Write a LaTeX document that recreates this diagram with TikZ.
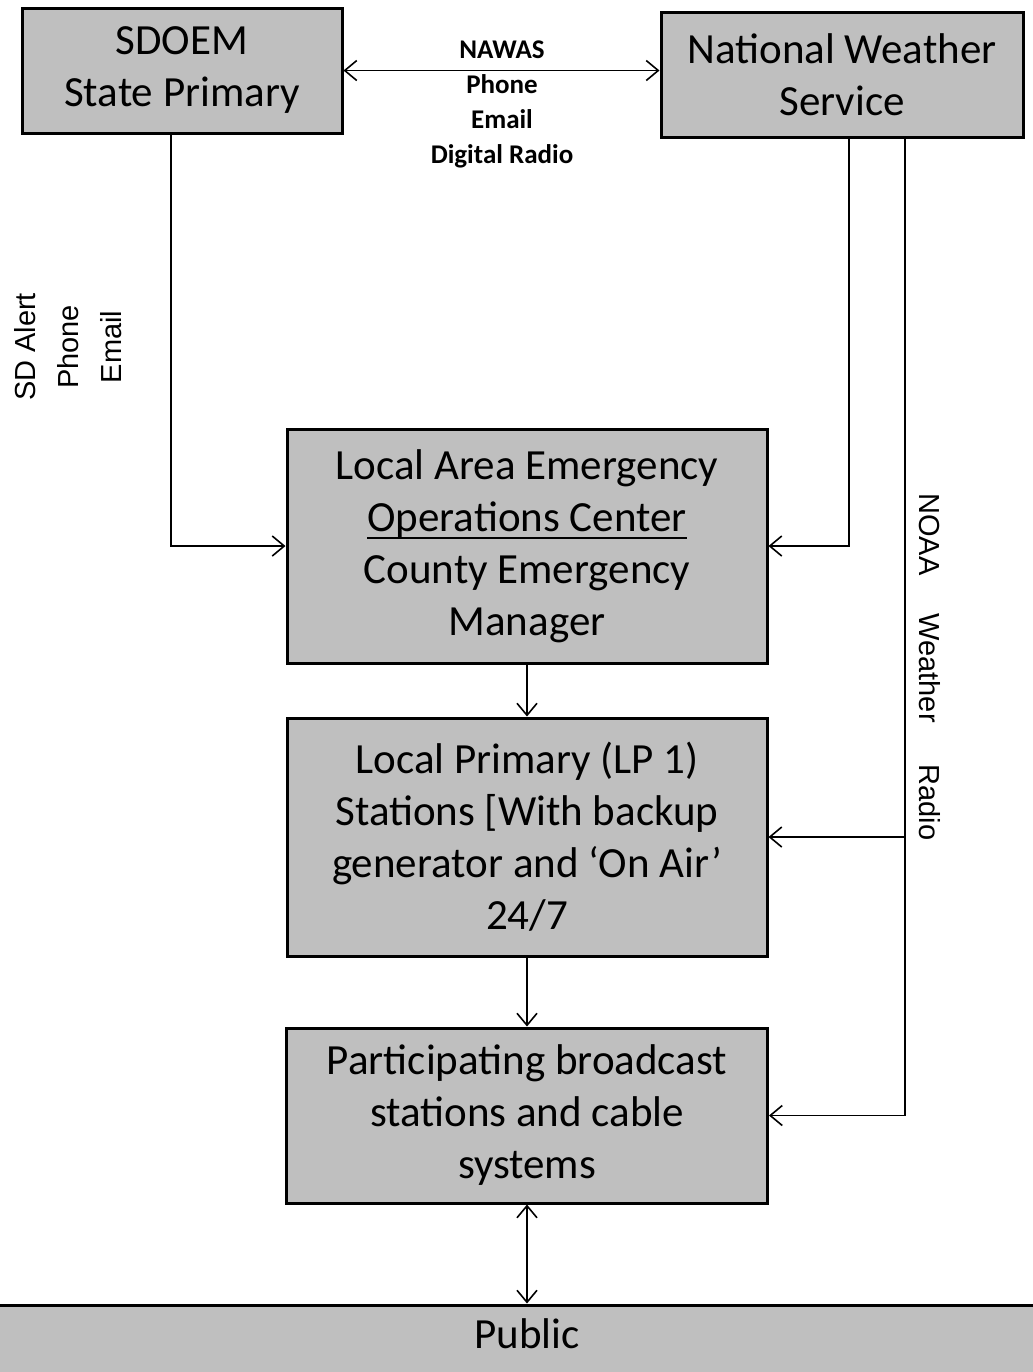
\documentclass[tikz,border=0pt]{standalone}
\usepackage{fontspec}
\setmainfont{Carlito}
\newfontfamily\arialfont{Liberation Sans}
\usetikzlibrary{arrows.meta}
\newcommand\thickul[1]{\setbox0\hbox{#1}\rlap{\rule[-4pt]{\wd0}{1.3pt}}\box0}
\begin{document}
\begin{tikzpicture}[x=0.5pt,y=-0.5pt,
  box/.style={draw=black, line width=1.5pt, fill=black!25, inner sep=0pt, align=center,
    font=\fontsize{21.5}{26}\selectfont},
  conn/.style={line width=0.9pt, -{Straight Barb[length=6pt,width=10pt,line width=0.8pt]}},
  dconn/.style={line width=0.9pt, {Straight Barb[length=6pt,width=10pt,line width=0.8pt]}-{Straight Barb[length=6pt,width=10pt,line width=0.8pt]}},
  vlabel/.style={font=\arialfont\fontsize{14.5}{21.5}\selectfont, align=center, inner sep=0pt}
]
\useasboundingbox (0,0) rectangle (1033,1372);

\node[box, minimum width=160pt, minimum height=62.5pt] (sdoem) at (182,70.5) {SDOEM\\State Primary};
\node[box, minimum width=181pt, minimum height=62.5pt] (nws) at (842,74.5) {National Weather\\Service};
\node[box, minimum width=240pt, minimum height=117pt] (laeoc) at (527,546) {Local Area Emergency\\\thickul{Operations Center}\\County Emergency\\Manager};
\node[box, minimum width=240pt, minimum height=119pt] (lp) at (527,837) {Local Primary (LP 1)\\Stations [With backup\\generator and `On Air'\\24/7};
\node[box, minimum width=240.5pt, minimum height=87.5pt] (part) at (527,1115.5) {Participating broadcast\\stations and  cable\\systems};
\node[box, anchor=base, minimum width=550pt, text height=21.5pt, text depth=40pt] (public) at (527,1348) {Public};

\node[font=\bfseries\fontsize{13.5}{17.5}\selectfont, align=center, inner sep=0pt] (media) at (502,104) {NAWAS\\Phone\\Email\\Digital Radio};
\node[vlabel, rotate=90] (sdlab) at (68,347) {SD Alert\\Phone\\Email};
\node[vlabel, rotate=-90] (noaa) at (930,667) {NOAA\hspace{19pt}Weather\hspace{21pt}Radio};

\coordinate (s1) at (171,133);
\coordinate (n1) at (849,137);
\coordinate (n2) at (905,137);

\draw[dconn] (sdoem.east) -- (sdoem.east -| nws.west);
\draw[conn] (s1) |- (laeoc.west);
\draw[conn] (n1) |- (laeoc.east);
\draw[conn] (n2) |- (part.east);
\draw[conn] (lp.east -| n2) -- (lp.east);
\draw[conn] (laeoc.south) -- (lp.north);
\draw[conn] (lp.south) -- (part.north);
\draw[dconn] (part.south) -- (part.south |- public.north);
\end{tikzpicture}
\end{document}
